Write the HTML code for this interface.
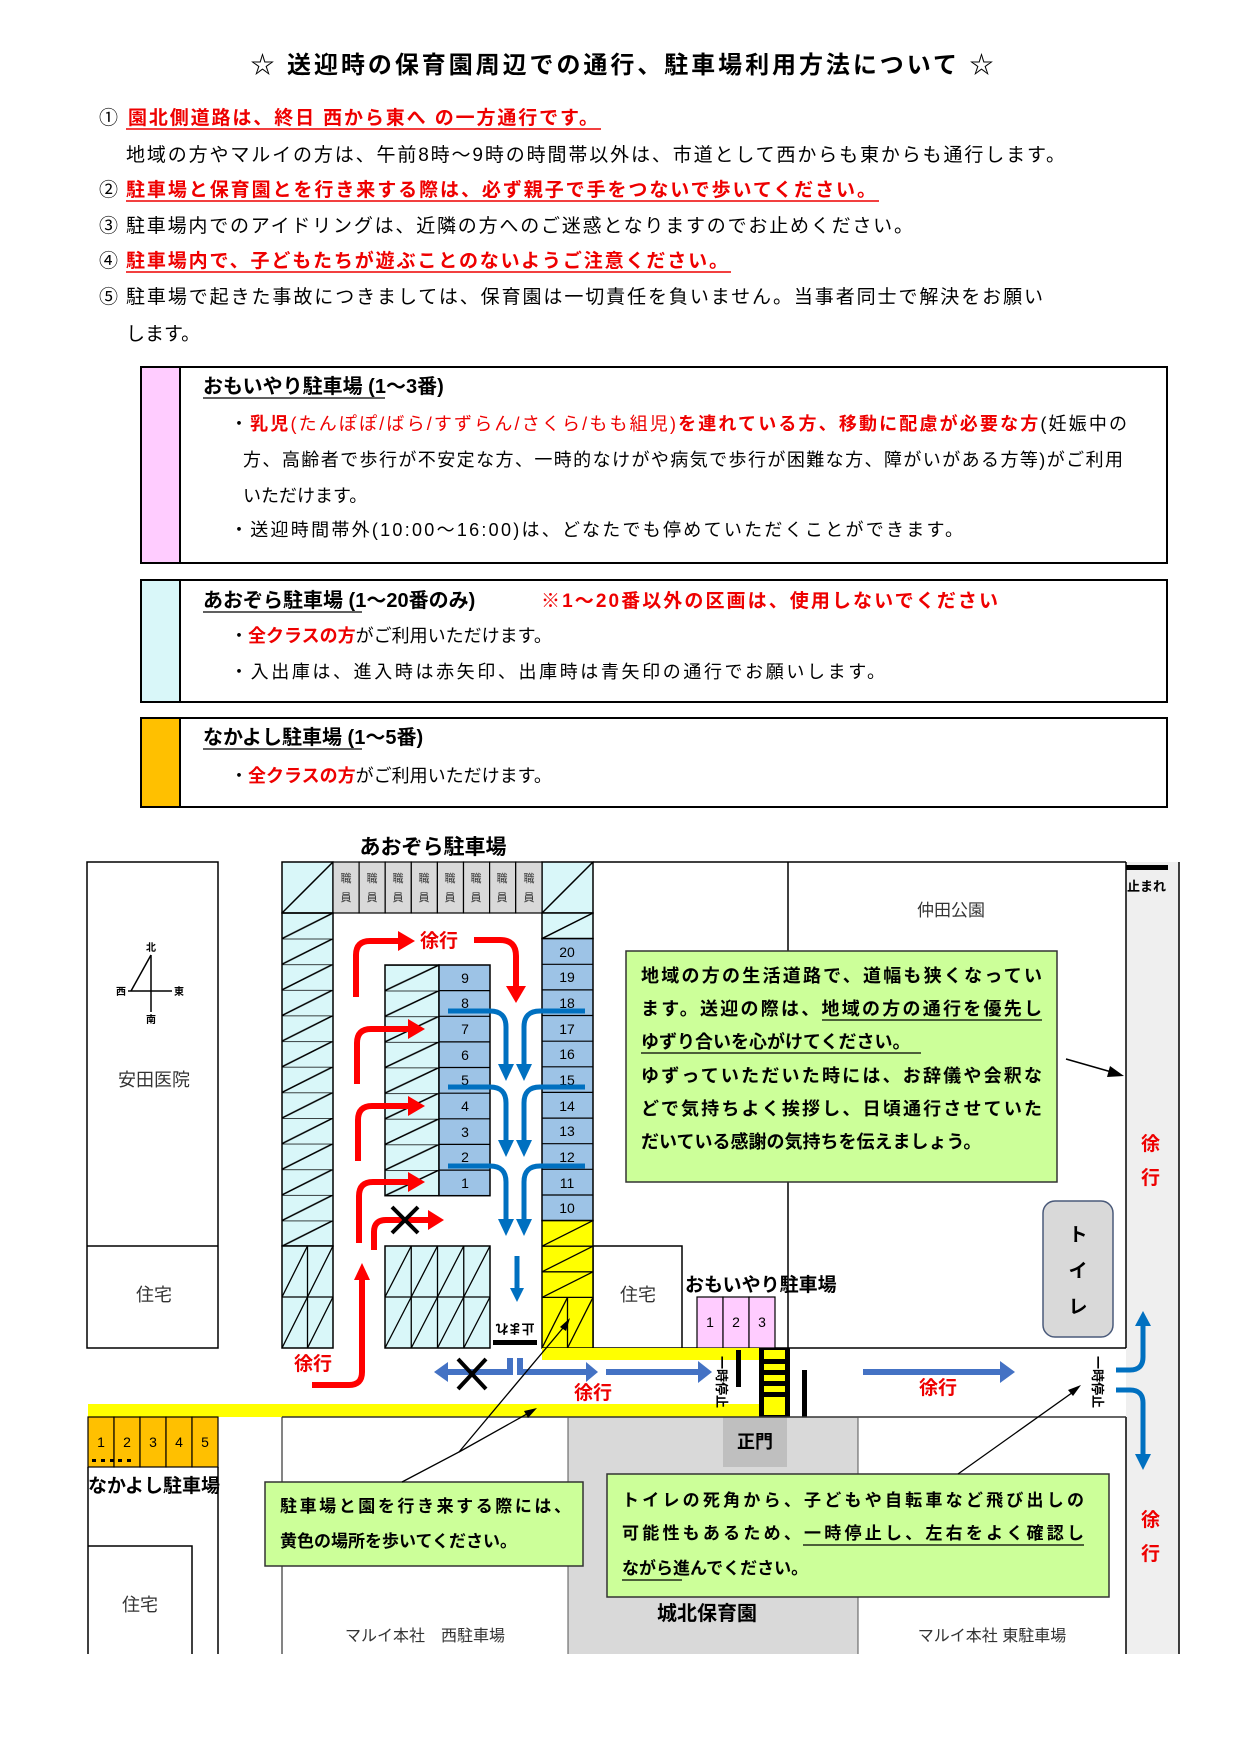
<!DOCTYPE html>
<html><head><meta charset="utf-8">
<style>
html,body{margin:0;padding:0;background:#fff;}
svg{display:block;}
text{font-family:"Liberation Sans","Noto Sans CJK JP",sans-serif;}
.b{font-weight:bold;}
</style></head><body>
<svg width="1240" height="1754" viewBox="0 0 1240 1754" xmlns="http://www.w3.org/2000/svg">
<defs>
<pattern id="hl" patternUnits="userSpaceOnUse" x="282" y="913" width="51" height="25.63">
<rect width="51" height="25.63" fill="#d9f7f9"/><line x1="0" y1="25.63" x2="51" y2="0" stroke="#000" stroke-width="1.5"/><line x1="0" y1="0" x2="51" y2="0" stroke="#000" stroke-width="1.5"/></pattern>
<pattern id="hi" patternUnits="userSpaceOnUse" x="385" y="965" width="54" height="25.63">
<rect width="54" height="25.63" fill="#d9f7f9"/><line x1="0" y1="25.63" x2="54" y2="0" stroke="#000" stroke-width="1.5"/><line x1="0" y1="0" x2="54" y2="0" stroke="#000" stroke-width="1.5"/></pattern>
</defs>

<!-- Title -->
<text x="622" y="73" text-anchor="middle" font-size="24" class="b" textLength="743">☆ 送迎時の保育園周辺での通行、駐車場利用方法について ☆</text>

<!-- Items -->
<g font-size="19">
<text x="99" y="124">①</text>
<text x="128" y="124" fill="#e00" class="b" textLength="470">園北側道路は、終日 西から東へ の一方通行です。</text>
<line x1="126" y1="129" x2="601" y2="129" stroke="#e00" stroke-width="1.5"/>
<text x="126" y="161" textLength="939">地域の方やマルイの方は、午前8時～9時の時間帯以外は、市道として西からも東からも通行します。</text>
<text x="99" y="196">②</text>
<text x="126" y="196" fill="#e00" class="b" textLength="750">駐車場と保育園とを行き来する際は、必ず親子で手をつないで歩いてください。</text>
<line x1="126" y1="201" x2="879" y2="201" stroke="#e00" stroke-width="1.5"/>
<text x="99" y="232">③</text>
<text x="126" y="232" textLength="787">駐車場内でのアイドリングは、近隣の方へのご迷惑となりますのでお止めください。</text>
<text x="99" y="267">④</text>
<text x="126" y="267" fill="#e00" class="b" textLength="602">駐車場内で、子どもたちが遊ぶことのないようご注意ください。</text>
<line x1="126" y1="272" x2="731" y2="272" stroke="#e00" stroke-width="1.5"/>
<text x="99" y="303">⑤</text>
<text x="126" y="303" textLength="917">駐車場で起きた事故につきましては、保育園は一切責任を負いません。当事者同士で解決をお願い</text>
<text x="126" y="340">します。</text>
</g>

<!-- Box 1 -->
<rect x="141" y="367" width="1026" height="196" fill="#fff" stroke="#000" stroke-width="2"/>
<rect x="142" y="368" width="38" height="194" fill="#ffccff"/>
<line x1="180" y1="367" x2="180" y2="563" stroke="#000" stroke-width="2"/>
<text x="203" y="393" font-size="20" class="b">おもいやり駐車場<tspan> (1～3番)</tspan></text>
<line x1="203" y1="398" x2="385" y2="398" stroke="#000" stroke-width="1.2"/>
<g font-size="18">
<text x="230" y="430" textLength="897">・<tspan fill="#e00" class="b">乳児</tspan><tspan fill="#e00">(たんぽぽ/ばら/すずらん/さくら/もも組児)</tspan><tspan fill="#e00" class="b">を連れている方、移動に配慮が必要な方</tspan>(妊娠中の</text>
<text x="243" y="466" textLength="880">方、高齢者で歩行が不安定な方、一時的なけがや病気で歩行が困難な方、障がいがある方等)がご利用</text>
<text x="243" y="502">いただけます。</text>
<text x="230" y="536" textLength="733">・送迎時間帯外(10:00～16:00)は、どなたでも停めていただくことができます。</text>
</g>

<!-- Box 2 -->
<rect x="141" y="580" width="1026" height="122" fill="#fff" stroke="#000" stroke-width="2"/>
<rect x="142" y="581" width="38" height="120" fill="#d9f7f9"/>
<line x1="180" y1="580" x2="180" y2="702" stroke="#000" stroke-width="2"/>
<text x="203" y="607" font-size="20" class="b">あおぞら駐車場<tspan> (1～20番のみ)</tspan></text>
<line x1="203" y1="612" x2="362" y2="612" stroke="#000" stroke-width="1.2"/>
<text x="541" y="607" font-size="19" fill="#e00" class="b" textLength="457">※1～20番以外の区画は、使用しないでください</text>
<g font-size="18">
<text x="230" y="642">・<tspan fill="#e00" class="b">全クラスの方</tspan>がご利用いただけます。</text>
<text x="230" y="678" textLength="655">・入出庫は、進入時は赤矢印、出庫時は青矢印の通行でお願いします。</text>
</g>

<!-- Box 3 -->
<rect x="141" y="718" width="1026" height="89" fill="#fff" stroke="#000" stroke-width="2"/>
<rect x="142" y="719" width="38" height="87" fill="#ffc000"/>
<line x1="180" y1="718" x2="180" y2="807" stroke="#000" stroke-width="2"/>
<text x="203" y="744" font-size="20" class="b">なかよし駐車場<tspan> (1～5番)</tspan></text>
<line x1="203" y1="749" x2="362" y2="749" stroke="#000" stroke-width="1.2"/>
<text x="230" y="782" font-size="18">・<tspan fill="#e00" class="b">全クラスの方</tspan>がご利用いただけます。</text>

<!-- ============ MAP ============ -->
<rect x="568" y="1417" width="290" height="237" fill="#d9d9d9"/>
<rect x="723" y="1417" width="64" height="50" fill="#bfbfbf"/>
<text x="755" y="1448" font-size="18" class="b" text-anchor="middle">正門</text>
<rect x="1126" y="862" width="53" height="792" fill="#efefef"/>
<line x1="1179" y1="862" x2="1179" y2="1654" stroke="#000" stroke-width="1.5"/>
<line x1="1126" y1="862" x2="1126" y2="1348" stroke="#000" stroke-width="1.5"/>
<line x1="1126" y1="1417" x2="1126" y2="1654" stroke="#000" stroke-width="1.5"/>

<rect x="87" y="862" width="131" height="486" fill="#fff" stroke="#000" stroke-width="1.5"/>
<line x1="87" y1="1246" x2="218" y2="1246" stroke="#000" stroke-width="1.5"/>
<text x="154" y="1086" font-size="18" text-anchor="middle" fill="#333">安田医院</text>
<text x="154" y="1301" font-size="18" text-anchor="middle" fill="#333">住宅</text>
<g stroke="#000" stroke-width="1.5" fill="none">
<line x1="151" y1="955" x2="151" y2="1012"/><line x1="128" y1="991" x2="172" y2="991"/><line x1="151" y1="955" x2="131" y2="991"/>
</g>
<g font-size="10" class="b" text-anchor="middle">
<text x="151" y="951">北</text><text x="151" y="1023">南</text><text x="121" y="995">西</text><text x="179" y="995">東</text>
</g>

<polyline points="593,862 1126,862" stroke="#000" stroke-width="1.5" fill="none"/>
<line x1="788" y1="862" x2="788" y2="1348" stroke="#000" stroke-width="1.5"/>
<line x1="593" y1="1348" x2="1126" y2="1348" stroke="#000" stroke-width="1.5"/>
<text x="951" y="916" font-size="17" text-anchor="middle" fill="#333">仲田公園</text>
<rect x="1126" y="865" width="42" height="5" fill="#000"/>
<text x="1127" y="891" font-size="13" class="b">止まれ</text>

<rect x="593" y="1246" width="89" height="102" fill="#fff" stroke="#000" stroke-width="1.5"/>
<text x="638" y="1301" font-size="18" text-anchor="middle" fill="#333">住宅</text>
<g stroke="#000" stroke-width="1.2">
<rect x="697" y="1297" width="26" height="51" fill="#ffccff"/><rect x="723" y="1297" width="26" height="51" fill="#ffccff"/><rect x="749" y="1297" width="26" height="51" fill="#ffccff"/>
</g>
<g font-size="14" text-anchor="middle"><text x="710" y="1327">1</text><text x="736" y="1327">2</text><text x="762" y="1327">3</text></g>
<text x="685" y="1291" font-size="19" class="b">おもいやり駐車場</text>

<rect x="1043" y="1201" width="70" height="136" rx="12" fill="#d9d9d9" stroke="#4a5a7a" stroke-width="1.5"/>
<g font-size="19" class="b" text-anchor="middle"><text x="1078" y="1241">ト</text><text x="1078" y="1277">イ</text><text x="1078" y="1313">レ</text></g>

<text x="433" y="854" font-size="21" class="b" text-anchor="middle">あおぞら駐車場</text>

<g stroke="#000" stroke-width="1.5">
<rect x="282" y="862" width="51" height="51" fill="#d9f7f9"/><line x1="282" y1="913" x2="333" y2="862"/>
<rect x="542" y="862" width="51" height="51" fill="#d9f7f9"/><line x1="542" y1="913" x2="593" y2="862"/>
</g>
<g stroke="#000" stroke-width="1.2" fill="#d9d9d9">
<rect x="333" y="862" width="26.1" height="51"/><rect x="359.1" y="862" width="26.1" height="51"/><rect x="385.2" y="862" width="26.1" height="51"/><rect x="411.3" y="862" width="26.1" height="51"/><rect x="437.4" y="862" width="26.1" height="51"/><rect x="463.5" y="862" width="26.1" height="51"/><rect x="489.6" y="862" width="26.1" height="51"/><rect x="515.7" y="862" width="26.3" height="51"/>
</g>
<g font-size="11" text-anchor="middle" fill="#333">
<text x="346" y="882">職</text><text x="346" y="901">員</text>
<text x="372" y="882">職</text><text x="372" y="901">員</text>
<text x="398" y="882">職</text><text x="398" y="901">員</text>
<text x="424" y="882">職</text><text x="424" y="901">員</text>
<text x="450" y="882">職</text><text x="450" y="901">員</text>
<text x="476" y="882">職</text><text x="476" y="901">員</text>
<text x="502" y="882">職</text><text x="502" y="901">員</text>
<text x="529" y="882">職</text><text x="529" y="901">員</text>
</g>
<rect x="282" y="913" width="51" height="333" fill="url(#hl)" stroke="#000" stroke-width="1.5"/>
<g stroke="#000" stroke-width="1.5" fill="#d9f7f9">
<rect x="282" y="1246" width="51" height="102"/>
</g>
<g stroke="#000" stroke-width="1.3">
<line x1="282" y1="1297" x2="333" y2="1297"/><line x1="307.5" y1="1246" x2="307.5" y2="1348"/>
<line x1="282" y1="1297" x2="307.5" y2="1246"/><line x1="307.5" y1="1297" x2="333" y2="1246"/>
<line x1="282" y1="1348" x2="307.5" y2="1297"/><line x1="307.5" y1="1348" x2="333" y2="1297"/>
</g>
<rect x="385" y="965" width="54" height="230.7" fill="url(#hi)" stroke="#000" stroke-width="1.5"/>
<rect x="439" y="965" width="51" height="230.7" fill="#9dc3e6" stroke="#000" stroke-width="1.5"/>
<g stroke="#000" stroke-width="1.2">
<line x1="439" y1="990.6" x2="490" y2="990.6"/><line x1="439" y1="1016.3" x2="490" y2="1016.3"/><line x1="439" y1="1041.9" x2="490" y2="1041.9"/><line x1="439" y1="1067.5" x2="490" y2="1067.5"/><line x1="439" y1="1093.2" x2="490" y2="1093.2"/><line x1="439" y1="1118.8" x2="490" y2="1118.8"/><line x1="439" y1="1144.4" x2="490" y2="1144.4"/><line x1="439" y1="1170.1" x2="490" y2="1170.1"/>
</g>
<g font-size="14" text-anchor="middle">
<text x="465" y="983">9</text><text x="465" y="1008">8</text><text x="465" y="1034">7</text><text x="465" y="1060">6</text><text x="465" y="1085">5</text><text x="465" y="1111">4</text><text x="465" y="1137">3</text><text x="465" y="1162">2</text><text x="465" y="1188">1</text>
</g>
<rect x="385" y="1246" width="105" height="102" fill="#d9f7f9" stroke="#000" stroke-width="1.5"/>
<g stroke="#000" stroke-width="1.3">
<line x1="385" y1="1297" x2="490" y2="1297"/>
<line x1="411.25" y1="1246" x2="411.25" y2="1348"/><line x1="437.5" y1="1246" x2="437.5" y2="1348"/><line x1="463.75" y1="1246" x2="463.75" y2="1348"/>
<line x1="385" y1="1297" x2="411.25" y2="1246"/><line x1="411.25" y1="1297" x2="437.5" y2="1246"/><line x1="437.5" y1="1297" x2="463.75" y2="1246"/><line x1="463.75" y1="1297" x2="490" y2="1246"/>
<line x1="385" y1="1348" x2="411.25" y2="1297"/><line x1="411.25" y1="1348" x2="437.5" y2="1297"/><line x1="437.5" y1="1348" x2="463.75" y2="1297"/><line x1="463.75" y1="1348" x2="490" y2="1297"/>
</g>
<g stroke="#000" stroke-width="1.5">
<rect x="542" y="913" width="51" height="25.6" fill="#d9f7f9"/><line x1="542" y1="938.6" x2="593" y2="913"/>
<rect x="542" y="938.6" width="51" height="282" fill="#9dc3e6"/>
</g>
<g stroke="#000" stroke-width="1.2">
<line x1="542" y1="964.3" x2="593" y2="964.3"/><line x1="542" y1="989.9" x2="593" y2="989.9"/><line x1="542" y1="1015.5" x2="593" y2="1015.5"/><line x1="542" y1="1041.2" x2="593" y2="1041.2"/><line x1="542" y1="1066.8" x2="593" y2="1066.8"/><line x1="542" y1="1092.4" x2="593" y2="1092.4"/><line x1="542" y1="1118.1" x2="593" y2="1118.1"/><line x1="542" y1="1143.7" x2="593" y2="1143.7"/><line x1="542" y1="1169.3" x2="593" y2="1169.3"/><line x1="542" y1="1195" x2="593" y2="1195"/>
</g>
<g font-size="14" text-anchor="middle">
<text x="567" y="957">20</text><text x="567" y="982">19</text><text x="567" y="1008">18</text><text x="567" y="1034">17</text><text x="567" y="1059">16</text><text x="567" y="1085">15</text><text x="567" y="1111">14</text><text x="567" y="1136">13</text><text x="567" y="1162">12</text><text x="567" y="1188">11</text><text x="567" y="1213">10</text>
</g>
<rect x="542" y="1220.6" width="51" height="127.4" fill="#ffff00" stroke="#000" stroke-width="1.5"/>
<g stroke="#000" stroke-width="1.3">
<line x1="542" y1="1246.2" x2="593" y2="1246.2"/><line x1="542" y1="1271.8" x2="593" y2="1271.8"/><line x1="542" y1="1297.4" x2="593" y2="1297.4"/>
<line x1="542" y1="1246.2" x2="593" y2="1220.6"/><line x1="542" y1="1271.8" x2="593" y2="1246.2"/><line x1="542" y1="1297.4" x2="593" y2="1271.8"/>
<line x1="567.5" y1="1297.4" x2="567.5" y2="1348"/><line x1="542" y1="1348" x2="567.5" y2="1297.4"/><line x1="567.5" y1="1348" x2="593" y2="1297.4"/>
</g>
<text x="515" y="1334" font-size="13" class="b" text-anchor="middle" transform="rotate(180 515 1329)">止まれ</text>
<rect x="493" y="1340" width="44" height="5" fill="#000"/>

<g fill="none" stroke="#f00" stroke-width="6">
<path d="M356,997 V955 Q356,941 370,941 H400"/>
<path d="M474,940 H500 Q516,940 516,956 V988"/>
<path d="M357,1084 V1043 Q357,1029 371,1029 H410"/>
<path d="M358,1161 V1120 Q358,1106 372,1106 H410"/>
<path d="M359,1243 V1196 Q359,1182 373,1182 H410"/>
<path d="M374,1250 V1232 Q374,1220 386,1220 H430"/>
<path d="M362,1278 V1372 Q362,1385 349,1385 H312"/>
</g>
<g fill="#f00">
<polygon points="398,931 415,941 398,951"/>
<polygon points="506,986 516,1003 526,986"/>
<polygon points="408,1019 425,1029 408,1039"/>
<polygon points="408,1096 425,1106 408,1116"/>
<polygon points="408,1172 425,1182 408,1192"/>
<polygon points="428,1210 444,1220 428,1230"/>
<polygon points="354,1280 362,1263 370,1280"/>
</g>
<g font-size="19" class="b" fill="#e00">
<text x="420" y="947">徐行</text>
<text x="294" y="1370">徐行</text>
<text x="574" y="1399">徐行</text>
<text x="919" y="1394">徐行</text>
<text x="1141" y="1150">徐</text><text x="1141" y="1184">行</text>
<text x="1141" y="1526">徐</text><text x="1141" y="1560">行</text>
</g>
<g stroke="#000" stroke-width="4">
<line x1="392" y1="1207" x2="418" y2="1233"/><line x1="418" y1="1207" x2="392" y2="1233"/>
</g>

<g fill="none" stroke="#0070c0" stroke-width="5">
<path d="M448,1011 H490 Q506,1011 506,1027 V1066"/><path d="M585,1011 H540 Q524,1011 524,1027 V1066"/>
<path d="M448,1087 H490 Q506,1087 506,1103 V1142"/><path d="M585,1087 H540 Q524,1087 524,1103 V1142"/>
<path d="M448,1166 H490 Q506,1166 506,1182 V1221"/><path d="M585,1166 H540 Q524,1166 524,1182 V1221"/>
<path d="M517,1256 V1290"/>
<path d="M1116,1370 H1130 Q1143,1370 1143,1357 V1325"/>
<path d="M1116,1390 H1130 Q1143,1390 1143,1403 V1455"/>
</g>
<g fill="#0070c0">
<polygon points="498,1064 506,1081 514,1064"/><polygon points="516,1064 524,1081 532,1064"/>
<polygon points="498,1140 506,1157 514,1140"/><polygon points="516,1140 524,1157 532,1140"/>
<polygon points="498,1219 506,1236 514,1219"/><polygon points="516,1219 524,1236 532,1219"/>
<polygon points="510,1288 517,1302 524,1288"/>
<polygon points="1135,1326 1143,1311 1151,1326"/>
<polygon points="1135,1454 1143,1470 1151,1454"/>
</g>

<rect x="542" y="1348" width="217" height="12" fill="#ffff00"/>
<rect x="88" y="1404" width="671" height="13" fill="#ffff00"/>
<rect x="759" y="1348" width="31" height="69" fill="#000"/>
<g fill="#ffff00">
<rect x="764" y="1350" width="21" height="9"/><rect x="764" y="1364" width="21" height="6"/><rect x="764" y="1375" width="21" height="6"/><rect x="764" y="1386" width="21" height="6"/><rect x="764" y="1397" width="21" height="18"/>
</g>
<rect x="736" y="1350" width="5" height="37" fill="#000"/>
<rect x="802" y="1370" width="5" height="47" fill="#000"/>
<g font-size="13" class="b">
<text transform="translate(717,1356) rotate(90)">一時停止</text>
<text transform="translate(1093,1356) rotate(90)">一時停止</text>
</g>
<g fill="none" stroke="#4472c4" stroke-width="6">
<path d="M446,1372 H510 V1358"/>
<path d="M520,1358 V1372 H588"/>
<path d="M606,1372 H700"/>
<path d="M863,1372 H1002"/>
</g>
<g fill="#4472c4">
<polygon points="448,1362 434,1372 448,1382"/>
<polygon points="586,1362 598,1372 586,1382"/>
<polygon points="698,1361 712,1372 698,1383"/>
<polygon points="1000,1361 1015,1372 1000,1383"/>
</g>
<g stroke="#000" stroke-width="4">
<line x1="458" y1="1359" x2="486" y2="1389"/><line x1="486" y1="1359" x2="458" y2="1389"/>
</g>

<line x1="282" y1="1417" x2="1126" y2="1417" stroke="#333" stroke-width="1.5"/>
<line x1="282" y1="1417" x2="282" y2="1654" stroke="#333" stroke-width="1.2"/>
<line x1="568" y1="1417" x2="568" y2="1654" stroke="#555" stroke-width="1"/>
<line x1="858" y1="1417" x2="858" y2="1654" stroke="#555" stroke-width="1"/>
<text x="425" y="1641" font-size="16" text-anchor="middle" fill="#333">マルイ本社　西駐車場</text>
<text x="992" y="1641" font-size="16" text-anchor="middle" fill="#333">マルイ本社 東駐車場</text>
<text x="707" y="1620" font-size="20" class="b" text-anchor="middle">城北保育園</text>

<g stroke="#000" stroke-width="1.2" fill="#ffc000">
<rect x="88" y="1417" width="26" height="50"/><rect x="114" y="1417" width="26" height="50"/><rect x="140" y="1417" width="26" height="50"/><rect x="166" y="1417" width="26" height="50"/><rect x="192" y="1417" width="26" height="50"/>
</g>
<g font-size="14" text-anchor="middle"><text x="101" y="1447">1</text><text x="127" y="1447">2</text><text x="153" y="1447">3</text><text x="179" y="1447">4</text><text x="205" y="1447">5</text></g>
<g fill="#000"><rect x="92" y="1459" width="4" height="3"/><rect x="101" y="1459" width="4" height="3"/><rect x="110" y="1459" width="4" height="3"/><rect x="118" y="1459" width="4" height="3"/><rect x="127" y="1459" width="4" height="3"/></g>
<text x="88" y="1492" font-size="19" class="b">なかよし駐車場</text>
<line x1="88" y1="1467" x2="88" y2="1654" stroke="#000" stroke-width="1.5"/>
<line x1="218" y1="1467" x2="218" y2="1654" stroke="#000" stroke-width="1.5"/>
<polyline points="88,1546 192,1546 192,1654" fill="none" stroke="#000" stroke-width="1.5"/>
<text x="140" y="1611" font-size="18" text-anchor="middle" fill="#333">住宅</text>

<rect x="626" y="951" width="431" height="231" fill="#ccff99" stroke="#333" stroke-width="1.5"/>
<g font-size="18" class="b">
<text x="641" y="982" textLength="401">地域の方の生活道路で、道幅も狭くなってい</text>
<text x="641" y="1015" textLength="401">ます。送迎の際は、地域の方の通行を優先し</text>
<text x="641" y="1048">ゆずり合いを心がけてください。</text>
<text x="641" y="1082" textLength="401">ゆずっていただいた時には、お辞儀や会釈な</text>
<text x="641" y="1115" textLength="401">どで気持ちよく挨拶し、日頃通行させていた</text>
<text x="641" y="1148">だいている感謝の気持ちを伝えましょう。</text>
</g>
<g stroke="#000" stroke-width="1.2">
<line x1="822" y1="1020" x2="1042" y2="1020"/><line x1="641" y1="1053" x2="921" y2="1053"/>
</g>
<line x1="1066" y1="1059" x2="1115" y2="1073" stroke="#000" stroke-width="1.5"/>
<polygon points="1124,1076 1110,1066 1107,1077" fill="#000"/>

<rect x="265" y="1482" width="318" height="84" fill="#ccff99" stroke="#333" stroke-width="1.5"/>
<g font-size="17" class="b">
<text x="280" y="1512" textLength="291">駐車場と園を行き来する際には、</text>
<text x="280" y="1547">黄色の場所を歩いてください。</text>
</g>
<g stroke="#000" stroke-width="1.3" fill="none">
<polyline points="402,1482 459,1452 568,1322"/>
<line x1="459" y1="1452" x2="534" y2="1410"/>
</g>
<polygon points="570,1318 560,1327 566,1331" fill="#000"/>
<polygon points="537,1408 524,1411 528,1418" fill="#000"/>

<rect x="607" y="1474" width="502" height="123" fill="#ccff99" stroke="#333" stroke-width="1.5"/>
<g font-size="17" class="b">
<text x="622" y="1506" textLength="462">トイレの死角から、子どもや自転車など飛び出しの</text>
<text x="622" y="1539" textLength="462">可能性もあるため、一時停止し、左右をよく確認し</text>
<text x="622" y="1574">ながら進んでください。</text>
</g>
<g stroke="#000" stroke-width="1.2">
<line x1="803" y1="1545" x2="1084" y2="1545"/><line x1="622" y1="1580" x2="682" y2="1580"/>
</g>
<line x1="958" y1="1474" x2="1076" y2="1390" stroke="#000" stroke-width="1.3"/>
<polygon points="1081,1385 1068,1390 1073,1396" fill="#000"/>
</svg>
</body></html>
